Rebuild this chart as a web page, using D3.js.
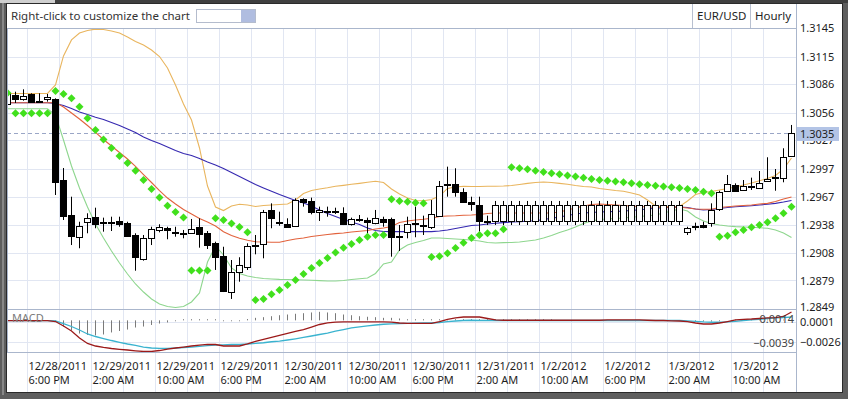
<!DOCTYPE html>
<html lang="en">
<head>
<meta charset="UTF-8">
<title>EUR/USD Hourly</title>
<style>
  body { margin: 0; background: #5e5e5e; }
  svg { display: block; }
  svg text { font-family: "Noto Sans", "Open Sans", sans-serif; fill: #1e1e1e; }
  .grid line { stroke: #e1e6f2; shape-rendering: crispEdges; }
  .frame { fill: none; stroke: #aab6cc; shape-rendering: crispEdges; }
</style>
</head>
<body>
<svg id="chart"></svg>
<script src="https://cdnjs.cloudflare.com/ajax/libs/d3/7.9.0/d3.min.js"></script>
<script>
// hourly EUR/USD candles
const open = [1.30652,1.30747,1.30702,1.30755,1.30689,1.30702,1.30702,1.2985,1.29481,1.29252,
  1.29404,1.2946,1.29407,1.29407,1.29418,1.29393,1.2927,1.29013,1.29235,1.29326,
  1.29347,1.29298,1.29294,1.29288,1.29357,1.29288,1.29182,1.29051,1.28665,1.28883,
  1.28929,1.29161,1.29172,1.29534,1.294,1.29386,1.29368,1.29647,1.29629,1.29509,
  1.29526,1.29526,1.29499,1.29386,1.29439,1.29428,1.29393,1.29439,1.29439,1.29263,
  1.29298,1.29393,1.29375,1.29351,1.29474,1.29805,1.29805,1.2972,1.29615,1.29587,
  1.29421,1.29421,1.29421,1.29421,1.29421,1.29421,1.29421,1.29421,1.29421,1.29421,
  1.29421,1.29421,1.29421,1.29421,1.29421,1.29421,1.29421,1.29421,1.29421,1.29421,
  1.29421,1.29421,1.29421,1.29421,1.29421,1.29298,1.29357,1.29375,1.29393,1.29544,
  1.29734,1.29798,1.29748,1.2979,1.29763,1.2984,1.29885,1.29868,1.30104];
const high = [1.30779,1.30782,1.30807,1.30765,1.30765,1.30758,1.30712,1.29977,1.29674,1.2941,
  1.29499,1.29558,1.29453,1.29463,1.29463,1.2941,1.29288,1.2927,1.29357,1.29383,
  1.29357,1.29357,1.29323,1.29439,1.29446,1.29312,1.29199,1.29146,1.29006,1.29035,
  1.29182,1.2927,1.29534,1.29604,1.29516,1.29446,1.29657,1.29657,1.29664,1.29569,
  1.29569,1.29558,1.29562,1.29453,1.29481,1.29453,1.29534,1.29463,1.29453,1.29375,
  1.29463,1.29569,1.29474,1.29639,1.2984,1.29991,1.29974,1.29763,1.29674,1.29674,
  1.29474,1.29629,1.29629,1.29629,1.29629,1.29629,1.29629,1.29629,1.29629,1.29629,
  1.29629,1.29629,1.29629,1.29629,1.29629,1.29629,1.29629,1.29629,1.29629,1.29629,
  1.29629,1.29629,1.29629,1.29629,1.29629,1.29357,1.294,1.2941,1.29604,1.29737,
  1.29903,1.29815,1.2985,1.29875,1.29945,1.3009,1.29966,1.30185,1.30431];
const low = [1.30589,1.30663,1.30687,1.3067,1.30663,1.30677,1.29692,1.29428,1.29164,1.2913,
  1.29288,1.29341,1.29305,1.29312,1.29357,1.29249,1.28893,1.28999,1.29164,1.29298,
  1.29225,1.29252,1.29235,1.29281,1.29136,1.29122,1.28901,1.28668,1.28595,1.28777,
  1.28901,1.29066,1.29024,1.29341,1.29368,1.29354,1.29365,1.29569,1.29488,1.29418,
  1.29463,1.29492,1.29375,1.2937,1.2941,1.29288,1.29383,1.29357,1.29041,1.29101,
  1.29235,1.29246,1.2927,1.29333,1.29465,1.29674,1.29674,1.29618,1.29526,1.29305,
  1.29375,1.29375,1.29375,1.29375,1.29375,1.29375,1.29375,1.29375,1.29375,1.29375,
  1.29375,1.29375,1.29375,1.29375,1.29375,1.29375,1.29375,1.29375,1.29375,1.29375,
  1.29375,1.29375,1.29375,1.29375,1.29375,1.2927,1.2932,1.29341,1.29357,1.29523,
  1.29729,1.29727,1.29734,1.29745,1.29755,1.29832,1.29737,1.29826,1.30098];
const close = [1.30771,1.30702,1.30737,1.30677,1.30687,1.30729,1.29832,1.29474,1.29263,1.29365,
  1.29453,1.29389,1.29404,1.29404,1.29383,1.29263,1.29035,1.29235,1.29333,1.29357,
  1.2932,1.29302,1.29277,1.29333,1.29281,1.29164,1.29041,1.28682,1.28883,1.28953,
  1.29157,1.29164,1.29509,1.29446,1.29404,1.29357,1.29639,1.29621,1.29509,1.29534,
  1.29528,1.29528,1.29386,1.29439,1.29436,1.29404,1.29453,1.2941,1.29252,1.29246,
  1.29383,1.29397,1.29379,1.29488,1.2979,1.29808,1.29727,1.29621,1.29597,1.29421,
  1.2941,1.29583,1.29583,1.29583,1.29583,1.29583,1.29583,1.29583,1.29583,1.29583,
  1.29583,1.29583,1.29583,1.29583,1.29583,1.29583,1.29583,1.29583,1.29583,1.29583,
  1.29583,1.29583,1.29583,1.29583,1.29583,1.29341,1.29362,1.29357,1.29534,1.2972,
  1.29805,1.29734,1.29784,1.29792,1.29815,1.29861,1.29887,1.3009,1.3035];

// bollinger bands
const upperBand = [1.30763,1.30763,1.30763,1.30763,1.30763,1.30763,1.30853,1.31159,1.31328,1.31401,
  1.31428,1.31442,1.31438,1.31423,1.31401,1.31359,1.31312,1.31275,1.31222,1.31153,
  1.31032,1.30853,1.30652,1.30483,1.30188,1.29787,1.29565,1.29528,1.29576,1.29594,
  1.29586,1.29571,1.29581,1.29586,1.29592,1.29597,1.29639,1.29708,1.29739,1.29755,
  1.29768,1.29784,1.29794,1.29805,1.29815,1.29826,1.29837,1.29824,1.29755,1.29703,
  1.2966,1.29634,1.29632,1.29644,1.29681,1.29761,1.29776,1.29784,1.29782,1.29782,
  1.29784,1.29785,1.29787,1.29792,1.29803,1.29815,1.29824,1.29829,1.29824,1.29815,
  1.29805,1.29792,1.29782,1.29776,1.29761,1.2975,1.29739,1.29731,1.29713,1.29692,
  1.29639,1.29576,1.29571,1.29571,1.29571,1.29629,1.29697,1.29718,1.29729,1.29745,
  1.29761,1.29776,1.29798,1.29819,1.29843,1.29866,1.29898,1.29966,1.30082];
const midBand = [1.30666,1.30666,1.30666,1.30666,1.30666,1.30666,1.30668,1.30621,1.30557,1.30494,
  1.30425,1.30352,1.30278,1.30209,1.3014,1.30072,1.29993,1.29908,1.29824,1.29739,
  1.2966,1.29597,1.29539,1.29492,1.29444,1.29407,1.29365,1.29305,1.29265,1.29235,
  1.29214,1.29199,1.29196,1.29193,1.29193,1.29212,1.29228,1.29238,1.29254,1.29265,
  1.29275,1.29284,1.29291,1.29302,1.29309,1.29317,1.29333,1.29344,1.2936,1.29402,
  1.29418,1.29428,1.29436,1.29446,1.29465,1.2947,1.29473,1.29478,1.29481,1.29486,
  1.29497,1.29502,1.29502,1.29502,1.29502,1.29502,1.29502,1.29502,1.29502,1.29513,
  1.29534,1.29555,1.29576,1.29592,1.29597,1.29592,1.29586,1.29581,1.29576,1.29571,
  1.29565,1.29562,1.29562,1.29562,1.29562,1.29555,1.29544,1.29541,1.29541,1.2956,
  1.29568,1.29576,1.29581,1.29586,1.29597,1.29604,1.29623,1.2965,1.29671];
const lowerBand = [1.30602,1.30602,1.30602,1.30602,1.30602,1.30602,1.30536,1.30272,1.29998,1.29766,
  1.29565,1.29386,1.29238,1.29101,1.28974,1.28858,1.28753,1.28668,1.28595,1.28542,
  1.28515,1.28505,1.28515,1.28563,1.28658,1.28985,1.29154,1.29059,1.28922,1.28864,
  1.28837,1.28821,1.28811,1.28806,1.28802,1.288,1.28798,1.28795,1.28792,1.28788,
  1.28784,1.28784,1.2879,1.288,1.28809,1.28816,1.28864,1.28964,1.28985,1.29112,
  1.29164,1.29191,1.29212,1.29238,1.29238,1.29233,1.29228,1.29222,1.29217,1.29207,
  1.29191,1.29186,1.29189,1.29191,1.29196,1.29207,1.29217,1.29238,1.29265,1.29296,
  1.29323,1.29354,1.29391,1.29418,1.29433,1.29439,1.29444,1.29449,1.29457,1.29465,
  1.29473,1.29481,1.29502,1.29523,1.29544,1.29523,1.2946,1.29418,1.29391,1.29375,
  1.29365,1.29358,1.29354,1.29351,1.29346,1.29341,1.29323,1.29291,1.29244];
// slower moving average
const slowMA = [1.30666,1.30666,1.30666,1.30666,1.30666,1.30666,1.30658,1.30636,1.30605,1.30568,
  1.30541,1.30512,1.30489,1.30457,1.30425,1.30388,1.30352,1.30304,1.30267,1.30235,
  1.30199,1.30162,1.3013,1.30109,1.30077,1.3004,1.30009,1.29972,1.29929,1.29887,
  1.29845,1.29803,1.29766,1.29731,1.29697,1.29666,1.29634,1.29608,1.29576,1.29534,
  1.29497,1.29465,1.29433,1.29407,1.29381,1.29344,1.29317,1.29307,1.29305,1.29305,
  1.29305,1.29305,1.29305,1.29305,1.29312,1.29323,1.29338,1.29354,1.2937,1.29375,
  1.29386,1.29394,1.294,1.29407,1.2941,1.29416,1.2942,1.29433,1.29446,1.2946,
  1.29476,1.29492,1.29502,1.29507,1.29513,1.29516,1.29518,1.29523,1.29528,1.29536,
  1.29544,1.29552,1.29558,1.29562,1.29565,1.2956,1.29544,1.29534,1.29539,1.2955,
  1.2956,1.29568,1.29573,1.29579,1.29586,1.29594,1.29604,1.29618,1.29634];
// parabolic SAR
const sar = [1.30768,1.30554,1.30554,1.30554,1.30554,1.30554,1.30789,1.30758,1.30712,1.30624,
  1.30501,1.30378,1.30278,1.30188,1.30103,1.3003,1.29948,1.2985,1.29755,1.29666,
  1.29579,1.29513,1.29455,1.28895,1.28895,1.28895,1.29446,1.29428,1.29391,1.29354,
  1.29298,1.28584,1.28595,1.28644,1.2869,1.28742,1.28795,1.28858,1.28922,1.28974,
  1.29027,1.29085,1.29136,1.29175,1.29217,1.29252,1.2927,1.2927,1.29647,1.29629,
  1.29621,1.29611,1.29604,1.29038,1.29045,1.29077,1.29133,1.29188,1.29238,1.2927,
  1.29288,1.29288,1.29331,1.29984,1.29974,1.29963,1.29948,1.29935,1.29921,1.2991,
  1.29898,1.29887,1.29875,1.29861,1.2985,1.29843,1.29834,1.29826,1.29815,1.29806,
  1.29798,1.29789,1.29782,1.29773,1.29766,1.29755,1.29745,1.29727,1.2971,1.29252,
  1.29262,1.29298,1.29323,1.29351,1.29375,1.29404,1.29446,1.29499,1.29568];

// MACD panel
const macdLine = [0.00022,0.00022,0.00022,0.00022,0.00022,0.00022,0.00011,-0.00049,-0.00117,-0.00211,
  -0.00285,-0.00319,-0.00339,-0.00353,-0.00364,-0.00373,-0.00384,-0.00393,-0.00393,-0.0038,
  -0.0036,-0.00346,-0.00333,-0.00319,-0.00306,-0.00296,-0.00299,-0.00319,-0.00319,-0.00319,
  -0.00292,-0.00258,-0.00231,-0.00204,-0.00177,-0.0015,-0.00123,-0.00097,-0.00063,-0.00029,
  -0.00006,0.00002,0.00005,0.00005,0.00005,0.00005,0.00005,0.00005,0.00002,-0.00009,
  -0.00013,-0.00013,-0.00013,-0.00013,0.00011,0.00041,0.00059,0.00072,0.00072,0.00072,
  0.00052,0.00032,0.00028,0.00028,0.00028,0.00028,0.00028,0.00028,0.00028,0.00028,
  0.00028,0.00028,0.00028,0.00028,0.00028,0.00032,0.00032,0.00032,0.00032,0.00032,
  0.00028,0.00025,0.00025,0.00021,0.00018,0.00011,-0.00009,-0.00022,-0.00022,-0.00009,
  0.00011,0.00032,0.00041,0.00045,0.00052,0.00059,0.00065,0.00079,0.0014];
const signalLine = [0.00022,0.00022,0.00022,0.00022,0.00022,0.00022,0.00018,-0.00016,-0.00056,-0.00103,
  -0.00157,-0.00191,-0.00218,-0.00245,-0.00269,-0.00292,-0.00312,-0.00333,-0.00346,-0.0035,
  -0.0035,-0.00346,-0.00339,-0.00333,-0.00323,-0.00315,-0.00308,-0.00303,-0.00299,-0.00296,
  -0.00292,-0.00285,-0.00275,-0.00262,-0.00252,-0.00238,-0.00222,-0.00204,-0.00184,-0.00164,
  -0.00144,-0.00117,-0.00097,-0.00076,-0.0006,-0.00047,-0.00036,-0.00026,-0.0002,-0.00016,
  -0.00013,-0.00012,-0.00009,-0.00009,-0.00002,0.00011,0.00018,0.00025,0.00028,0.00025,
  0.00025,0.00025,0.00025,0.00025,0.00025,0.00025,0.00025,0.00025,0.00025,0.00025,
  0.00025,0.00025,0.00025,0.00025,0.00025,0.00025,0.00025,0.00025,0.00025,0.00025,
  0.00025,0.00025,0.00025,0.00025,0.00025,0.00021,0.00014,0.00005,0.00001,0.00001,
  0.00005,0.00014,0.00025,0.00034,0.00042,0.00052,0.00059,0.00065,0.00072];
const histogram = [0,0,0,0,0,0,-0.00002,-0.0007,-0.00119,-0.00156,
  -0.00174,-0.0018,-0.00168,-0.00143,-0.00125,-0.00107,-0.00082,-0.0007,-0.00051,-0.00033,
  -0.0002,-0.00005,0.00008,0.00008,0.00008,0.00008,0.00008,-0.00005,-0.00005,-0.00005,
  0.0001,0.00025,0.00033,0.00045,0.00057,0.00066,0.00075,0.00082,0.00091,0.00099,
  0.00091,0.00082,0.00066,0.00057,0.00045,0.00038,0.00033,0.00025,0.00025,0.00017,
  0.00008,0.00008,0.00008,0.00008,0.00008,0.00008,0.00008,0.00008,0.00008,0.00008,
  0.00008,0.00008,0.00008,0.00008,0.00008,0.00008,0.00008,0.00008,0.00008,0,
  0,0,0,0,0,0,0,0,0,0,
  0,0,0,0,0,0,-0.00005,-0.00008,-0.00008,-0.00005,
  0,0.00003,0.00003,0.00003,0.00003,0.00003,0.00003,0.00003,0.00003];

// axis labels
const tickCandles = [3, 11, 19, 27, 35, 43, 51, 59, 67, 75, 83, 91];
const tickDates = ["12/28/2011", "12/29/2011", "12/29/2011", "12/29/2011", "12/30/2011", "12/30/2011",
  "12/30/2011", "12/31/2011", "1/2/2012", "1/2/2012", "1/3/2012", "1/3/2012"];
const tickTimes = ["6:00 PM", "2:00 AM", "10:00 AM", "6:00 PM", "2:00 AM", "10:00 AM",
  "6:00 PM", "2:00 AM", "10:00 AM", "6:00 PM", "2:00 AM", "10:00 AM"];
const priceTicks = [1.3145, 1.3115, 1.3086, 1.3056, 1.3027, 1.2997, 1.2967, 1.2938, 1.2908, 1.2879, 1.2849];
const macdTicks = [0.0001, -0.0026];
const histTicks = [0.0014, -0.0039];
const lastPrice = 1.3035;

const W = 848, H = 399;
const L = 7, R = 796, T = 28, PB = 309, B = 352;

const svg = d3.select("#chart").attr("width", W).attr("height", H);

// window frame
svg.append("rect").attr("x", 0).attr("y", 0).attr("width", W).attr("height", 3).attr("fill", "#3f3f3f");
svg.append("rect").attr("x", 0).attr("y", 0).attr("width", 55).attr("height", 3).attr("fill", "#cfcfcf");
svg.append("rect").attr("x", 6.5).attr("y", 3.5).attr("width", 836).attr("height", 389)
  .attr("fill", "#fff").attr("stroke", "#2a2a2a");
svg.append("rect").attr("x", 2).attr("y", 3).attr("width", 2).attr("height", 392).attr("fill", "#888");

// scales
const idx = d3.range(close.length);
const x = d3.scaleBand().domain(idx).range([3.5, 795.5]);
const cx = i => x(i) + x.bandwidth() / 2;
const y = d3.scaleLinear().domain([1.28489, 1.31451]).range([PB, 28.3]);
const my = d3.scaleLinear().domain([-0.0040, 0.0018]).range([B, PB]);
const hy = d3.scaleLinear().domain([-0.0039, 0.0014]).range([B, PB]);

// toolbar
svg.append("text").attr("x", 11).attr("y", 20).style("font-size", "11.5px").style("fill", "#333")
  .text("Right-click to customize the chart");
svg.append("rect").attr("x", 196.5).attr("y", 9.5).attr("width", 59).attr("height", 13)
  .attr("fill", "#fff").attr("stroke", "#b4bccd");
svg.append("rect").attr("x", 241).attr("y", 10).attr("width", 14).attr("height", 12).attr("fill", "#b0bde0");
svg.append("text").attr("x", 697).attr("y", 20).style("font-size", "11.5px").text("EUR/USD");
svg.append("text").attr("x", 755).attr("y", 20).style("font-size", "11.5px").text("Hourly");
[692.5, 750.5].forEach(v => svg.append("line").attr("x1", v).attr("x2", v).attr("y1", 4).attr("y2", T)
  .attr("stroke", "#b8c0d0"));

// grid
const grid = svg.append("g").attr("class", "grid");
const gridCandles = idx.filter(i => i % 4 === 3);
grid.selectAll(".v").data(gridCandles).enter().append("line")
  .attr("x1", d => x(d)).attr("x2", d => x(d)).attr("y1", T).attr("y2", 392);
grid.selectAll(".h").data(priceTicks).enter().append("line")
  .attr("x1", L).attr("x2", R).attr("y1", d => Math.round(y(d)) + 0.5).attr("y2", d => Math.round(y(d)) + 0.5);
grid.selectAll(".hm").data(macdTicks).enter().append("line")
  .attr("x1", L).attr("x2", R).attr("y1", d => Math.round(my(d)) + 0.5).attr("y2", d => Math.round(my(d)) + 0.5);

// clip paths
const defs = svg.append("defs");
defs.append("clipPath").attr("id", "clipP").append("rect").attr("x", L).attr("y", T).attr("width", R - L).attr("height", PB - T);
defs.append("clipPath").attr("id", "clipM").append("rect").attr("x", L).attr("y", PB).attr("width", R - L).attr("height", B - PB);

const price = svg.append("g").attr("clip-path", "url(#clipP)");

// current price dashed line
price.append("line").attr("x1", L).attr("x2", R)
  .attr("y1", Math.round(y(lastPrice)) + 0.5).attr("y2", Math.round(y(lastPrice)) + 0.5)
  .attr("stroke", "#9aa6c6").attr("stroke-dasharray", "4,3");

const priceLine = arr => d3.line().x(cx).y(i => y(arr[i]))(idx);
[[upperBand, "#e9b55e"], [lowerBand, "#8ed68e"], [slowMA, "#3528b0"], [midBand, "#e2623c"]].forEach(([arr, col]) => {
  price.append("path").attr("d", priceLine(arr)).attr("fill", "none").attr("stroke", col).attr("stroke-width", 1.1);
});

// candles
const candle = price.selectAll(".candle").data(idx).enter().append("g").attr("class", "candle");
candle.append("line")
  .attr("x1", cx).attr("x2", cx)
  .attr("y1", i => y(high[i])).attr("y2", i => y(low[i]))
  .attr("stroke", "#000");
candle.append("rect")
  .attr("x", i => cx(i) - 3).attr("width", 6)
  .attr("y", i => Math.round(y(Math.max(open[i], close[i]))) + 0.5)
  .attr("height", i => Math.max(1, Math.round(y(Math.min(open[i], close[i]))) - Math.round(y(Math.max(open[i], close[i])))))
  .attr("fill", i => close[i] < open[i] ? "#000" : "#fff")
  .attr("stroke", "#000");

// parabolic SAR
price.selectAll(".sar").data(idx).enter().append("path")
  .attr("d", "M0,-4L4,0L0,4L-4,0Z")
  .attr("transform", i => `translate(${cx(i)},${y(sar[i])})`)
  .attr("fill", "#41e01c");

// MACD panel
const macd = svg.append("g").attr("clip-path", "url(#clipM)");
macd.selectAll(".bar").data(idx).enter().append("line")
  .attr("x1", cx).attr("x2", cx)
  .attr("y1", hy(0)).attr("y2", i => hy(histogram[i]) + (histogram[i] < 0 ? 0.5 : -0.5) * (histogram[i] === 0 ? 0 : 1))
  .attr("stroke", "#7a7a7a");
macd.append("path").attr("d", d3.line().x(cx).y(i => my(signalLine[i]))(idx))
  .attr("fill", "none").attr("stroke", "#3ab3cf").attr("stroke-width", 1.3);
macd.append("path").attr("d", d3.line().x(cx).y(i => my(macdLine[i]))(idx))
  .attr("fill", "none").attr("stroke", "#9c1a1a").attr("stroke-width", 1.3);
svg.append("text").attr("x", 12).attr("y", 318).attr("dy", "0.35em").style("font-size", "11px").style("fill", "#7a7a7a").text("MACD");
svg.selectAll(".hlab").data(histTicks).enter().append("text")
  .attr("x", 794).attr("y", d => hy(d)).attr("dy", d => d > 0 ? "1.25em" : "-0.45em")
  .attr("text-anchor", "end").style("font-size", "11px").style("fill", "#444")
  .text(d => d3.format(".4f")(d));

// panel borders
svg.append("rect").attr("class", "frame").attr("x", L + 0.5).attr("y", T + 0.5).attr("width", R - L).attr("height", B - T);
svg.append("line").attr("class", "frame").attr("x1", L).attr("x2", R).attr("y1", PB + 0.5).attr("y2", PB + 0.5);
svg.append("line").attr("class", "frame").attr("x1", R + 0.5).attr("x2", R + 0.5).attr("y1", 4).attr("y2", 392);

// right price axis
const yAxis = d3.axisRight(y).tickValues(priceTicks).tickFormat(d3.format(".4f")).tickSize(0).tickPadding(4);
const gy = svg.append("g").attr("transform", `translate(${R},0)`).call(yAxis);
const gm = svg.append("g").attr("transform", `translate(${R},0)`)
  .call(d3.axisRight(my).tickValues(macdTicks).tickFormat(d3.format(".4f")).tickSize(0).tickPadding(4));
[gy, gm].forEach(g => {
  g.select(".domain").remove();
  g.selectAll("text").style("font-size", "11px").attr("font-family", null);
});
gy.selectAll(".tick").filter(d => d === 1.2849).select("text").attr("dy", "0.1em");

// last price marker
const ly = Math.round(y(lastPrice));
svg.append("rect").attr("x", 797).attr("y", ly - 6).attr("width", 42).attr("height", 14).attr("fill", "#b3c4e6");
svg.append("text").attr("x", 800).attr("y", ly + 1).attr("dy", "0.32em").style("font-size", "11px").text(d3.format(".4f")(lastPrice));

// time axis labels
const xl = svg.selectAll(".xlab").data(tickCandles).enter().append("text")
  .attr("x", d => x(d) + 1).attr("y", 370).style("font-size", "11px");
xl.append("tspan").text((d, k) => tickDates[k]);
xl.append("tspan").attr("x", d => x(d) + 1).attr("dy", 14).text((d, k) => tickTimes[k]);
</script>
</body>
</html>
